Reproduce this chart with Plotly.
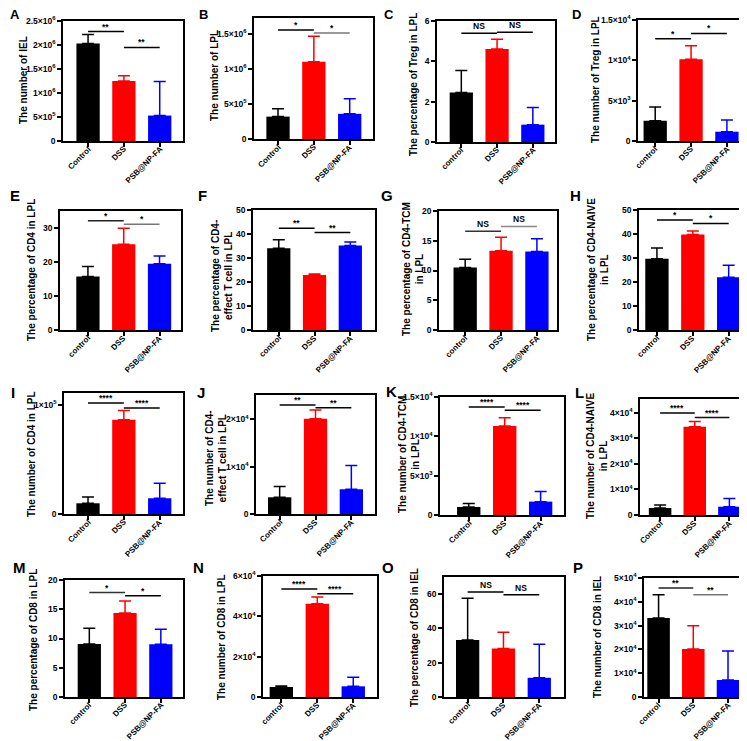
import plotly.graph_objects as go

W, H = 747, 741

letters = list("ABCDEFGHIJKLMNOP")
labels_cap = ["Control", "DSS", "PSB@NP-FA"]
labels_low = ["control", "DSS", "PSB@NP-FA"]
bar_colors = ["#000000", "#FF0000", "#0000FF"]

# ---- data (means, upper error) ----
A_mean = [2.03e6, 1.25e6, 5.3e5];   A_err = [1.9e5, 1.1e5, 7.1e5]
B_mean = [3.2e5, 1.105e6, 3.6e5];   B_err = [1.13e5, 3.65e5, 2.16e5]
C_mean = [2.45, 4.61, 0.86];        C_err = [1.09, 0.49, 0.85]
D_mean = [2510, 10120, 1150];       D_err = [1690, 1690, 1440]
E_mean = [15.7, 25.2, 19.5];        E_err = [3.0, 4.7, 2.3]
F_mean = [34.1, 22.9, 35.2];        F_err = [3.5, 0.4, 1.5]
G_mean = [10.5, 13.3, 13.2];        G_err = [1.4, 2.3, 2.15]
H_mean = [29.7, 39.8, 22.0];        H_err = [4.5, 1.4, 5.0]
I_mean = [9800, 86200, 14400];      I_err = [5800, 8600, 13700]
J_mean = [3530, 20140, 5230];       J_err = [2270, 1840, 5020]
K_mean = [1020, 11300, 1700];       K_err = [430, 1060, 1280]
L_mean = [2730, 34550, 3250];       L_err = [1170, 2070, 3240]
M_mean = [9.07, 14.37, 9.0];        M_err = [2.7, 2.03, 2.6]
N_mean = [4960, 46280, 5290];       N_err = [490, 3310, 4460]
O_mean = [33.3, 28.3, 11.2];        O_err = [24.3, 9.5, 19.6]
P_mean = [33190, 20170, 7140];      P_err = [9810, 9800, 12190]

means = [A_mean, B_mean, C_mean, D_mean, E_mean, F_mean, G_mean, H_mean,
         I_mean, J_mean, K_mean, L_mean, M_mean, N_mean, O_mean, P_mean]
errs = [A_err, B_err, C_err, D_err, E_err, F_err, G_err, H_err,
        I_err, J_err, K_err, L_err, M_err, N_err, O_err, P_err]

# significance bar heights (control-DSS, DSS-PSB) and labels
sig_heights = [[2.28e6, 1.95e6], [1.557e6, 1.514e6], [5.39, 5.44], [12675, 13330],
               [32.1, 31.1], [42.4, 40.6], [16.6, 17.4], [45.8, 44.4],
               [101500, 96900], [23040, 22470], [13720, 13300], [40000, 38180],
               [17.86, 17.3], [53550, 51240], [61.3, 59.7], [45800, 43000]]
sig_labels = ["**", "*", "NS", "*", "*", "**", "NS", "*",
              "****", "**", "****", "****", "*", "****", "NS", "**"]

titles = ["The number of IEL", "The number of LPL", "The percentage of Treg in LPL",
          "The number of Treg in LPL", "The percentage of CD4 in LPL",
          "The percentage of CD4-<br>effect T cell in LPL",
          "The percentage of CD4-TCM<br>in LPL", "The percentage of CD4-NAIVE<br>in LPL",
          "The number of CD4 in LPL", "The number of CD4-<br>effect T cell in LPL",
          "The number of CD4-TCM<br>in LPL", "The number of CD4-NAIVE<br>in LPL",
          "The percentage of CD8 in LPL", "The number of CD8 in LPL",
          "The percentage of CD8 in IEL", "The number of CD8 in IEL"]

def sci(m, e):
    return f"{m}×10<sup>{e}</sup>"

y_ticks = [
    ([0, 5e5, 1e6, 1.5e6, 2e6, 2.5e6], ["0", sci(5, 5), sci(1, 6), sci(1.5, 6), sci(2, 6), sci(2.5, 6)]),
    ([0, 5e5, 1e6, 1.5e6], ["0", sci(5, 5), sci(1, 6), sci(1.5, 6)]),
    ([0, 2, 4, 6], ["0", "2", "4", "6"]),
    ([0, 5e3, 1e4, 1.5e4], ["0", sci(5, 3), sci(1, 4), sci(1.5, 4)]),
    ([0, 10, 20, 30], ["0", "10", "20", "30"]),
    ([0, 10, 20, 30, 40, 50], ["0", "10", "20", "30", "40", "50"]),
    ([0, 5, 10, 15, 20], ["0", "5", "10", "15", "20"]),
    ([0, 10, 20, 30, 40, 50], ["0", "10", "20", "30", "40", "50"]),
    ([0, 1e5], ["0", sci(1, 5)]),
    ([0, 1e4, 2e4], ["0", sci(1, 4), sci(2, 4)]),
    ([0, 5e3, 1e4, 1.5e4], ["0", sci(5, 3), sci(1, 4), sci(1.5, 4)]),
    ([0, 1e4, 2e4, 3e4, 4e4], ["0", sci(1, 4), sci(2, 4), sci(3, 4), sci(4, 4)]),
    ([0, 5, 10, 15, 20], ["0", "5", "10", "15", "20"]),
    ([0, 2e4, 4e4, 6e4], ["0", sci(2, 4), sci(4, 4), sci(6, 4)]),
    ([0, 20, 40, 60], ["0", "20", "40", "60"]),
    ([0, 1e4, 2e4, 3e4, 4e4, 5e4], ["0", sci(1, 4), sci(2, 4), sci(3, 4), sci(4, 4), sci(5, 4)]),
]
y_max = [2.5e6, 1.73e6, 6, 1.5e4, 35, 50, 20, 50, 1.107e5, 2.516e4, 1.5e4, 4.545e4, 20, 6e4, 70, 5e4]
cap_labels = [True, True, False, False, False, False, False, False,
              True, True, True, True, False, False, False, False]

# ---- layout geometry (pixels) ----
frames = [(55, 175, 13, 133), (246, 365, 10, 131), (429, 547, 13, 134), (630, 744, 12, 133),
          (52, 173, 203, 322), (245, 367, 202, 322), (431, 549, 203, 322), (631, 744, 202, 322),
          (56, 175, 385, 506), (248, 367, 387, 506), (432, 556, 389, 507), (632, 746, 391, 507),
          (57, 175, 572, 689), (255, 369, 568, 689), (436, 556, 569, 689), (636, 745, 570, 689)]
x_ranges = [(-0.70, 2.65), (-0.67, 2.65), (-0.68, 2.62), (-0.48, 2.70),
            (-0.78, 2.60), (-0.72, 2.69), (-0.73, 2.56), (-0.50, 2.65),
            (-0.67, 2.65), (-0.66, 2.66), (-0.80, 2.65), (-0.58, 2.71),
            (-0.68, 2.62), (-0.51, 2.66), (-0.66, 2.69), (-0.42, 2.72)]
title_pos = [(15, 72), (207, 68), (406, 77), (587, 72), (23, 262), (214, 268), (405, 261), (590, 262),
             (23, 446), (208, 450), (401, 447), (589, 448), (25, 632), (213, 629), (406, 630), (589, 629)]
letter_pos = [(7, 7), (195, 7), (381, 7), (568, 7), (7, 187), (194, 187), (379, 188), (567, 188),
              (5, 384), (193, 384), (384, 383), (571, 384), (11, 559), (190, 559), (380, 559), (570, 559)]
letter_size = [13, 13, 13, 13, 15, 15, 15, 15, 15, 15, 15, 15, 15, 15, 15, 15]
sig_colors = [("#000", "#000"), ("#000", "#777"), ("#000", "#000"), ("#000", "#000"),
              ("#222", "#777"), ("#000", "#000"), ("#333", "#888"), ("#000", "#000"),
              ("#000", "#000"), ("#000", "#000"), ("#000", "#000"), ("#000", "#111"),
              ("#333", "#000"), ("#000", "#000"), ("#000", "#000"), ("#222", "#777")]

FONT = "Liberation Sans, Arial, sans-serif"
XLAB_SIZE = 8
# approximate bold Arial glyph widths (em) for placing rotated labels by their end point
GW = {"C": .722, "o": .611, "n": .611, "t": .333, "r": .389, "l": .278, "c": .556,
      "D": .722, "S": .667, "P": .667, "B": .722, "@": .975, "N": .722, "-": .333,
      "F": .611, "A": .722}

def text_len(s, size):
    return sum(GW.get(ch, .6) for ch in s) * size

fig = go.Figure()
shapes, annotations = [], []
layout = {}

for i in range(16):
    n = i + 1
    xa = "x" if n == 1 else f"x{n}"
    ya = "y" if n == 1 else f"y{n}"
    xkey = "xaxis" if n == 1 else f"xaxis{n}"
    ykey = "yaxis" if n == 1 else f"yaxis{n}"
    x0, x1, y0, y1 = frames[i]
    labels = labels_cap if cap_labels[i] else labels_low
    for g in range(3):
        fig.add_trace(go.Bar(
            x=[g], y=[means[i][g]], width=0.65,
            marker=dict(color=bar_colors[g], line=dict(width=0)),
            error_y=dict(type="data", array=[errs[i][g]], arrayminus=[0], symmetric=False,
                         color=bar_colors[g], thickness=1.5, width=6),
            xaxis=xa, yaxis=ya, showlegend=False, hoverinfo="skip"))
        # rotated category label: end of text sits just below the tick
        half = 0.3536 * text_len(labels[g], XLAB_SIZE)
        annotations.append(dict(xref=xa, yref="paper", x=g, y=1 - (y1 + 7) / H, text=labels[g],
                                textangle=-45, showarrow=False, xanchor="center", yanchor="middle",
                                xshift=-half + 1, yshift=-half, borderpad=0,
                                font=dict(family=FONT, size=XLAB_SIZE, color="black", weight="bold")))
    tv, tt = y_ticks[i]
    layout[xkey] = dict(domain=[x0 / W, x1 / W], range=list(x_ranges[i]), anchor=ya,
                        tickvals=[0, 1, 2], showticklabels=False,
                        showline=True, linewidth=1.5, linecolor="black", mirror=True,
                        ticks="outside", ticklen=4, tickwidth=1.5, tickcolor="black",
                        showgrid=False, zeroline=False, automargin=False)
    layout[ykey] = dict(domain=[1 - y1 / H, 1 - y0 / H], range=[0, y_max[i]], anchor=xa,
                        tickvals=tv, ticktext=tt,
                        showline=True, linewidth=1.5, linecolor="black", mirror=True,
                        ticks="outside", ticklen=4, tickwidth=1.5, tickcolor="black",
                        showgrid=False, zeroline=False, automargin=False,
                        tickfont=dict(family=FONT, size=8.5, color="black", weight="bold"))
    # significance bars
    for k, (a, b) in enumerate([(0, 1), (1, 2)]):
        h = sig_heights[i][k]
        shapes.append(dict(type="line", xref=xa, yref=ya, x0=a, x1=b, y0=h, y1=h,
                           line=dict(color=sig_colors[i][k], width=1.5)))
        annotations.append(dict(xref=xa, yref=ya, x=(a + b) / 2, y=h, text=sig_labels[i],
                                showarrow=False, yanchor="bottom", xanchor="center",
                                yshift=-2 if "*" in sig_labels[i] else 0,
                                font=dict(family=FONT, size=8.5, color="black", weight="bold")))
    # y title
    tx, ty = title_pos[i]
    annotations.append(dict(xref="paper", yref="paper", x=tx / W, y=1 - ty / H, text=titles[i],
                            textangle=-90, showarrow=False, xanchor="center", yanchor="middle",
                            font=dict(family=FONT, size=10, color="black", weight="bold")))
    lx, ly = letter_pos[i]
    annotations.append(dict(xref="paper", yref="paper", x=lx / W, y=1 - ly / H, text=letters[i],
                            showarrow=False, xanchor="center", yanchor="middle",
                            font=dict(family=FONT, size=letter_size[i], color="black", weight="bold")))

fig.update_layout(**layout)
fig.update_layout(width=W, height=H, margin=dict(l=0, r=0, t=0, b=0),
                  paper_bgcolor="white", plot_bgcolor="white",
                  shapes=shapes, annotations=annotations, barmode="overlay")
fig.write_html("out.html")
